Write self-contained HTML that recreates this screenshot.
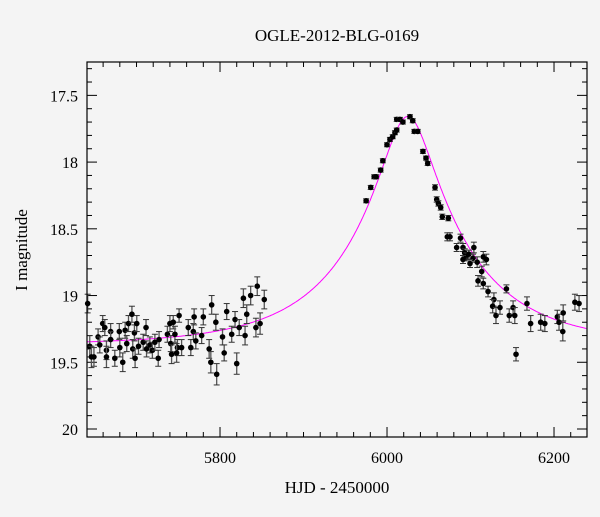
<!DOCTYPE html>
<html><head><meta charset="utf-8"><style>
html,body{margin:0;padding:0;background:#f4f4f4;}
svg text{font-family:"Liberation Serif",serif;fill:#000;}
</style></head><body>
<svg id="chart" width="600" height="512" xmlns="http://www.w3.org/2000/svg">
<rect width="600" height="512" fill="#f4f4f4"/>
<text x="337" y="41" font-size="17" text-anchor="middle">OGLE-2012-BLG-0169</text>
<text x="337" y="493" font-size="17" text-anchor="middle">HJD - 2450000</text>
<text transform="translate(27,250) rotate(-90)" font-size="17" text-anchor="middle">I magnitude</text>
<g id="ticks"></g>
<g id="model"></g>
<g id="pts"></g>
<rect x="87" y="62" width="500" height="375" fill="none" stroke="#000" stroke-width="1.2"/>
</svg>
<script>
const hjd=[5641.5,5644,5646,5649,5654,5656,5659.5,5662,5664,5664,5669,5669,5674,5679.4,5680,5683.5,5686.4,5688.3,5690.4,5694.5,5695.5,5697.5,5698.3,5700.3,5702.4,5708,5711.4,5712,5716,5719,5722,5726,5727,5737,5740,5741,5742,5744,5746,5749,5748,5751,5754,5762,5765,5768,5769,5771,5780,5778,5787,5789,5790,5795,5796,5803,5805,5808,5814,5818,5820,5823,5828,5830,5832,5836.7,5843,5844.6,5848,5853,
5975,5980.5,5984.6,5987,5992.4,5995,6000,6003.5,6006.8,6009.5,6011.6,6011.6,6015.5,6019,6027.5,6030.8,6032.7,6036.8,6043,6046.7,6048.7,6057.5,6059.5,6061.5,6064.3,6066.2,6073.4,6072.2,6075.4,6083.4,6088,6091,6093,6095,6091,6098,6104,6103,6108,6099.4,6115.3,6119,6113.4,6109,6115.3,6121,6128,6126.5,6130.5,6135.3,6143,6146.4,6151,6153,6154.5,6167.6,6172,6184,6189,6204,6206,6211,6210.5,6225,6230];
const mag=[19.06,19.38,19.46,19.46,19.31,19.37,19.21,19.24,19.41,19.46,19.27,19.33,19.47,19.27,19.39,19.5,19.26,19.36,19.21,19.14,19.4,19.28,19.47,19.21,19.38,19.35,19.24,19.4,19.37,19.41,19.35,19.47,19.33,19.29,19.21,19.36,19.44,19.2,19.29,19.39,19.43,19.15,19.39,19.24,19.39,19.27,19.16,19.34,19.16,19.3,19.4,19.5,19.07,19.2,19.59,19.31,19.43,19.12,19.29,19.18,19.51,19.24,19.02,19.3,19.14,19.0,19.24,18.93,19.21,19.03,
18.29,18.19,18.11,18.11,18.06,17.99,17.87,17.83,17.81,17.78,17.76,17.68,17.68,17.70,17.66,17.69,17.77,17.77,17.92,17.97,18.01,18.19,18.28,18.31,18.34,18.41,18.42,18.56,18.56,18.64,18.57,18.64,18.68,18.71,18.73,18.69,18.64,18.72,18.75,18.76,18.71,18.73,18.82,18.89,18.91,18.97,19.03,19.08,19.15,19.09,18.95,19.15,19.09,19.15,19.44,19.06,19.21,19.20,19.21,19.16,19.20,19.13,19.27,19.05,19.06];
const err=[0.07,0.08,0.08,0.07,0.06,0.06,0.06,0.06,0.07,0.08,0.06,0.06,0.06,0.06,0.07,0.07,0.06,0.06,0.06,0.06,0.07,0.06,0.07,0.06,0.06,0.06,0.06,0.06,0.06,0.06,0.06,0.06,0.06,0.06,0.06,0.06,0.07,0.05,0.06,0.06,0.07,0.05,0.06,0.06,0.06,0.06,0.06,0.06,0.06,0.06,0.07,0.08,0.07,0.06,0.08,0.06,0.06,0.06,0.06,0.06,0.08,0.06,0.07,0.07,0.07,0.07,0.07,0.07,0.08,0.07,
0.015,0.015,0.015,0.015,0.015,0.015,0.015,0.015,0.015,0.015,0.015,0.015,0.015,0.015,0.015,0.015,0.015,0.015,0.015,0.015,0.015,0.02,0.02,0.02,0.02,0.02,0.02,0.03,0.03,0.03,0.03,0.03,0.03,0.03,0.03,0.03,0.04,0.03,0.04,0.03,0.04,0.04,0.04,0.04,0.04,0.04,0.05,0.05,0.06,0.05,0.03,0.05,0.05,0.06,0.05,0.05,0.06,0.06,0.06,0.05,0.06,0.06,0.07,0.06,0.06];
const xTickLabels=[5800,6000,6200];
const yTickLabels=[17.5,18,18.5,19,19.5,20];
const modelParams={t0:6025,u0:0.21,tE:138,base:19.37};

const L=87,R=587,T=62,B=437,X0=5640.7,X1=6239.5,Y0=17.25,Y1=20.06;
const NS='http://www.w3.org/2000/svg';
function sx(t){return L+(t-X0)/(X1-X0)*(R-L);}
function sy(m){return T+(m-Y0)/(Y1-Y0)*(B-T);}
function mk(tag,attrs,parent){const e=document.createElementNS(NS,tag);for(const k in attrs)e.setAttribute(k,attrs[k]);parent.appendChild(e);return e;}
const tk=document.getElementById('ticks');
for(let v=5660;v<=6239;v+=20){
  const x=sx(v),maj=(v%200===0),len=maj?10:5;
  const a=mk('line',{x1:x,x2:x,y1:B,y2:B-len,stroke:'#000'},tk);
  
  
  const b=mk('line',{x1:x,x2:x,y1:T,y2:T+len,stroke:'#000'},tk);
  
  
}
xTickLabels.forEach(v=>{
  const t=mk('text',{x:sx(v),y:B+26,'font-size':16,'text-anchor':'middle'},tk);t.textContent=v;
  
  
});
for(let i=173;i<=200;i++){
  const v=i/10,y=sy(v),maj=(i%5===0),len=maj?10:5;
  const a=mk('line',{x1:L,x2:L+len,y1:y,y2:y,stroke:'#000'},tk);
  
  
  const b=mk('line',{x1:R,x2:R-len,y1:y,y2:y,stroke:'#000'},tk);
  
  
}
yTickLabels.forEach(v=>{
  const t=mk('text',{x:L-9,y:sy(v)+6,'font-size':16,'text-anchor':'end'},tk);t.textContent=v;
  
  
});
let d='';
for(let t=X0;t<=X1;t+=1){
  const u=Math.hypot(modelParams.u0,(t-modelParams.t0)/modelParams.tE);
  const A=(u*u+2)/(u*Math.sqrt(u*u+4));
  const m=modelParams.base-2.5*Math.log10(A);
  d+=(d?'L':'M')+sx(t).toFixed(1)+','+sy(m).toFixed(1);
}
const mp=mk('path',{d:d,fill:'none',stroke:'#ff00ff','stroke-width':1},document.getElementById('model'));


const pg=document.getElementById('pts');
hjd.forEach((t,i)=>{
  const x=sx(t),y=sy(mag[i]),e1=sy(mag[i]-err[i]),e2=sy(mag[i]+err[i]);
  const g=mk('g',{},pg);
  
  
  mk('line',{x1:x,x2:x,y1:e1,y2:e2,stroke:'#555','stroke-width':1.3},g);
  mk('line',{x1:x-3,x2:x+3,y1:e1,y2:e1,stroke:'#333','stroke-width':1},g);
  mk('line',{x1:x-3,x2:x+3,y1:e2,y2:e2,stroke:'#333','stroke-width':1},g);
  mk('circle',{cx:x,cy:y,r:2.8,fill:'#000'},g);
});
</script>
</body></html>
